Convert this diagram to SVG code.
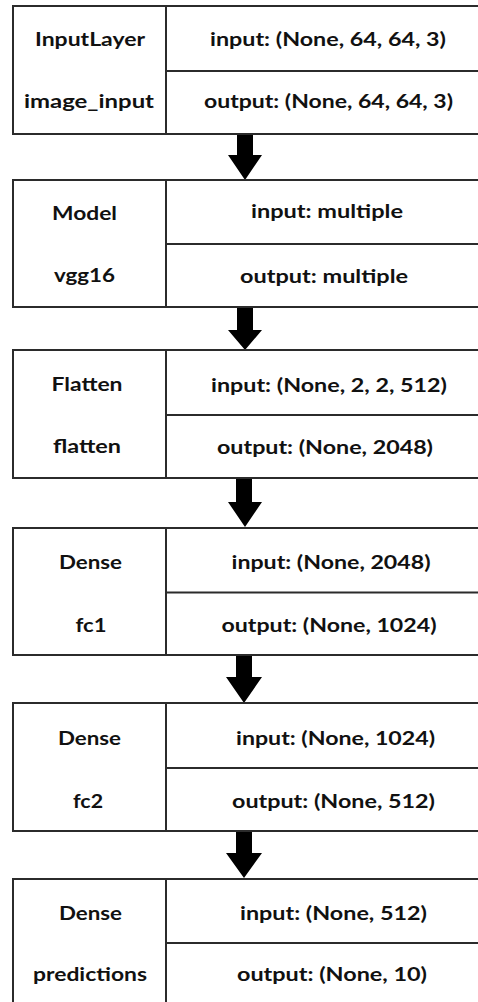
<svg xmlns="http://www.w3.org/2000/svg" width="478" height="1002" viewBox="0 0 478 1002">
<style>
.bg{fill:#ffffff}
.box{fill:#ffffff;stroke:#2b2b2b;stroke-width:2}
.ln{stroke:#2b2b2b;stroke-width:2;fill:none}
.t{font-family:Lato,"Open Sans","Liberation Sans",sans-serif;font-weight:700;font-size:19px;fill:#111111;text-anchor:middle}
.arr{fill:#000000}
</style>
<rect class="bg" x="0" y="0" width="478" height="1002"/>
<g id="connectors">
  <path class="arr" d="M237,134 H253 V155 H262 L245,180 L228,155 H237 Z"/>
  <path class="arr" d="M237,307 H253 V330 H262 L245,350 L228,330 H237 Z"/>
  <path class="arr" d="M236,478 H252 V502 H262 L245,527 L228,502 H236 Z"/>
  <path class="arr" d="M236,655 H252 V677 H262 L244,703 L226,677 H236 Z"/>
  <path class="arr" d="M236,831 H252 V853 H262 L244,878 L226,853 H236 Z"/>
</g>
<g id="node-image_input">
  <rect class="box" x="13" y="6" width="470" height="128"/>
  <line class="ln" x1="166" y1="6" x2="166" y2="134"/>
  <line class="ln" x1="166" y1="71" x2="478" y2="71"/>
  <text class="t" x="90" y="46" textLength="110" lengthAdjust="spacingAndGlyphs">InputLayer</text>
  <text class="t" x="89" y="108" textLength="130" lengthAdjust="spacingAndGlyphs">image_input</text>
  <text class="t" x="328" y="46" textLength="236" lengthAdjust="spacingAndGlyphs">input: (None, 64, 64, 3)</text>
  <text class="t" x="328.5" y="108" textLength="249" lengthAdjust="spacingAndGlyphs">output: (None, 64, 64, 3)</text>
</g>
<g id="node-vgg16">
  <rect class="box" x="13" y="180" width="470" height="127"/>
  <line class="ln" x1="166" y1="180" x2="166" y2="307"/>
  <line class="ln" x1="166" y1="244" x2="478" y2="244"/>
  <text class="t" x="84.5" y="220" textLength="65" lengthAdjust="spacingAndGlyphs">Model</text>
  <text class="t" x="84.5" y="282" textLength="61" lengthAdjust="spacingAndGlyphs">vgg16</text>
  <text class="t" x="327" y="218" textLength="152" lengthAdjust="spacingAndGlyphs">input: multiple</text>
  <text class="t" x="324" y="282.5" textLength="168" lengthAdjust="spacingAndGlyphs">output: multiple</text>
</g>
<g id="node-flatten">
  <rect class="box" x="13" y="350" width="470" height="128"/>
  <line class="ln" x1="166" y1="350" x2="166" y2="478"/>
  <line class="ln" x1="166" y1="415" x2="478" y2="415"/>
  <text class="t" x="87" y="391" textLength="71" lengthAdjust="spacingAndGlyphs">Flatten</text>
  <text class="t" x="87" y="453" textLength="68" lengthAdjust="spacingAndGlyphs">flatten</text>
  <text class="t" x="329" y="391.5" textLength="236" lengthAdjust="spacingAndGlyphs">input: (None, 2, 2, 512)</text>
  <text class="t" x="325" y="454" textLength="216" lengthAdjust="spacingAndGlyphs">output: (None, 2048)</text>
</g>
<g id="node-fc1">
  <rect class="box" x="13" y="528" width="470" height="127"/>
  <line class="ln" x1="166" y1="528" x2="166" y2="655"/>
  <line class="ln" x1="166" y1="592.5" x2="478" y2="592.5"/>
  <text class="t" x="90.5" y="569" textLength="63" lengthAdjust="spacingAndGlyphs">Dense</text>
  <text class="t" x="91" y="631.5" textLength="31" lengthAdjust="spacingAndGlyphs">fc1</text>
  <text class="t" x="331" y="569" textLength="199" lengthAdjust="spacingAndGlyphs">input: (None, 2048)</text>
  <text class="t" x="329" y="631.5" textLength="215" lengthAdjust="spacingAndGlyphs">output: (None, 1024)</text>
</g>
<g id="node-fc2">
  <rect class="box" x="13" y="703" width="470" height="128"/>
  <line class="ln" x1="166" y1="703" x2="166" y2="831"/>
  <line class="ln" x1="166" y1="768" x2="478" y2="768"/>
  <text class="t" x="89.5" y="745" textLength="63" lengthAdjust="spacingAndGlyphs">Dense</text>
  <text class="t" x="88" y="808" textLength="30" lengthAdjust="spacingAndGlyphs">fc2</text>
  <text class="t" x="335.5" y="745" textLength="199" lengthAdjust="spacingAndGlyphs">input: (None, 1024)</text>
  <text class="t" x="333.5" y="808" textLength="203" lengthAdjust="spacingAndGlyphs">output: (None, 512)</text>
</g>
<g id="node-predictions">
  <path class="ln" d="M13,1010 V879 H478"/>
  <line class="ln" x1="166" y1="879" x2="166" y2="1010"/>
  <line class="ln" x1="166" y1="943" x2="478" y2="943"/>
  <text class="t" x="90.5" y="920" textLength="63" lengthAdjust="spacingAndGlyphs">Dense</text>
  <text class="t" x="90" y="981" textLength="114" lengthAdjust="spacingAndGlyphs">predictions</text>
  <text class="t" x="333.5" y="920" textLength="187" lengthAdjust="spacingAndGlyphs">input: (None, 512)</text>
  <text class="t" x="332" y="981" textLength="190" lengthAdjust="spacingAndGlyphs">output: (None, 10)</text>
</g>
</svg>
